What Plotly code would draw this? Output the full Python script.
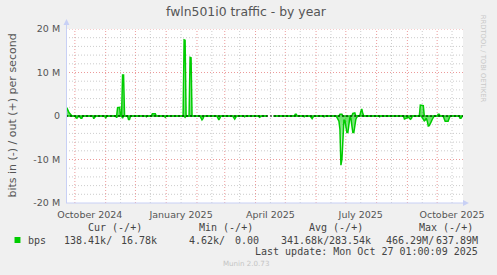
import plotly.graph_objects as go
import pandas as pd
import numpy as np

# ---------------- data ----------------
START = "2024-09-22 01:00"
END = "2025-10-27 01:00"

# days since START, value in Mbit/s (out = positive direction)
out_day = [0, 1, 3, 5, 6, 51, 52, 54, 55, 56, 57, 58, 59, 86, 87, 90, 91,
           118, 119, 120, 121, 124, 125, 126, 127, 203, 206, 209, 230, 231, 232, 233,
           275, 276, 278, 279, 288, 289, 291, 292, 296, 297, 298, 299, 300,
           356, 357, 360, 361, 374, 375, 376, 377, 400]
out_mbps = [1.9, 1.8, 0.8, 0.2, 0, 0, 1.9, 2.0, 0, 0, 9.4, 9.4, 0, 0, 0.5, 0.5, 0,
            0, 17.5, 17.4, 0, 0, 13.5, 13.4, 0, 0, np.nan, 0, 0, 0.4, 0.4, 0,
            0, 0.4, 0.4, 0, 0, 0.6, 0.7, 0, 0.1, 1.0, 1.6, 0.6, 0,
            0, 2.5, 2.4, 0, 0, 0.4, 0.4, 0, 0.02]

# days since START, magnitude in Mbit/s (in = drawn negative)
in_day = [0, 9, 10, 11, 12, 14, 15, 16, 17, 27, 28, 29, 30, 39, 40, 41, 50, 51, 52,
          56, 57, 58, 62, 63, 64, 65, 80, 81, 82, 99, 100, 101, 119, 120, 121,
          135, 136, 137, 138, 139, 152, 153, 154, 155, 156, 168, 169, 170, 171, 172,
          179, 180, 181, 194, 195, 196, 197, 203, 206, 209,
          239, 240, 241, 246, 247, 248, 249, 250, 259, 260, 261,
          272, 273, 274, 275, 276, 277, 278, 279, 280, 281, 282, 283, 284, 285, 286,
          287, 288, 289, 290, 291, 292, 293, 294, 315, 316, 317,
          340, 341, 342, 343, 344, 345, 346, 347, 348, 349,
          358, 359, 360, 361, 362, 363, 364, 365, 366, 367, 368, 369, 370, 371,
          380, 381, 382, 385, 386, 387, 396, 397, 398, 399, 400]
in_mbps = [0, 0, 0.4, 0.5, 0.1, 0.2, 0.5, 0.5, 0, 0, 0.6, 0.4, 0, 0, 0.5, 0, 0, 0.4, 0,
           0, 0.5, 0, 0, 0.8, 0.8, 0, 0, 0.2, 0, 0, 0.3, 0, 0, 0.3, 0,
           0, 0.5, 0.9, 0.6, 0, 0, 0.6, 0.9, 0.5, 0, 0, 0.5, 0.7, 0.3, 0,
           0, 0.2, 0, 0, 0.3, 0.1, 0, 0, np.nan, 0,
           0, 0.2, 0, 0, 0.4, 0.6, 0.2, 0, 0, 0.2, 0,
           0, 0.3, 0.8, 1.2, 3.0, 11.3, 10.0, 3.0, 1.0, 1.0, 2.5, 3.8, 3.8, 1.0, 0.3,
           0.5, 2.0, 3.8, 3.8, 1.5, 0.8, 0.3, 0, 0, 0.2, 0,
           0, 0.7, 0.6, 0.5, 0.5, 0.3, 0.5, 0.75, 0.6, 0,
           0, 0.3, 0.6, 1.1, 0.9, 0.5, 1.2, 2.3, 2.2, 1.5, 1.3, 0.8, 0.4, 0,
           0, 0.6, 1.2, 1.2, 0.5, 0, 0, 0.5, 0.5, 0.1, 0.14]

y_tickvals = [-20e6, -10e6, 0, 10e6, 20e6]
y_ticktext = ["-20 M", "-10 M", "0", "10 M", "20 M"]
x_tickdates = ["2024-10-16", "2025-01-16", "2025-04-16", "2025-07-16", "2025-10-16"]
x_ticktext = ["October 2024", "January 2025", "April 2025", "July 2025", "October 2025"]

legend_headers = ["Cur (-/+)", "Min (-/+)", "Avg (-/+)", "Max (-/+)"]
legend_values = ["138.41k/", "16.78k", "4.62k/", "0.00", "341.68k/", "283.54k", "466.29M/", "637.89M"]
title_text = "fwln501i0 traffic - by year"
ytitle_text = "bits in (-) / out (+) per second"
update_text = "Last update: Mon Oct 27 01:00:09 2025"
munin_text = "Munin 2.0.73"
rrd_text = "RRDTOOL / TOBI OETIKER"

# ---------------- layout geometry ----------------
W, H = 497, 275
L, R, T, B = 66, 30, 29, 72
PW, PH = W - L - R, H - T - B


def px(x):
    return (x - L) / PW


def py(y):
    return (T + PH - y) / PH


start = pd.Timestamp(START)
out_x = start + pd.to_timedelta(out_day, unit="D")
in_x = start + pd.to_timedelta(in_day, unit="D")
out_y = np.array(out_mbps) * 1e6
in_y = -np.array(in_mbps) * 1e6

GREEN = "#00CC00"
fig = go.Figure()
fig.add_trace(go.Scatter(
    x=in_x, y=in_y, mode="lines", line=dict(color=GREEN, width=1.5),
    fill="tozeroy",
    fillgradient=dict(type="vertical", start=-8e6, stop=0,
                      colorscale=[[0, "rgba(0,204,0,0.10)"], [1, "rgba(0,204,0,0.6)"]]),
    connectgaps=False, showlegend=False, hoverinfo="skip"))
fig.add_trace(go.Scatter(
    x=out_x, y=out_y, mode="lines", line=dict(color=GREEN, width=1.5),
    fill="tozeroy",
    fillgradient=dict(type="vertical", start=0, stop=12e6,
                      colorscale=[[0, "rgba(0,204,0,0.6)"], [1, "rgba(0,204,0,0.10)"]]),
    connectgaps=False, showlegend=False, hoverinfo="skip"))

shapes = []
MAJ = "rgba(230,120,120,0.75)"
MIN = "rgba(170,170,170,0.6)"
DOT = "1px,2px"
# vertical grid
for d in pd.date_range("2024-10-16", "2025-10-16", freq="MS") + pd.Timedelta(days=15):
    shapes.append(dict(type="line", xref="x", yref="paper", x0=d, x1=d, y0=0, y1=1,
                       line=dict(color=MIN, width=1, dash=DOT), layer="below"))
for d in pd.date_range("2024-10-01", "2025-10-01", freq="MS"):
    shapes.append(dict(type="line", xref="x", yref="paper", x0=d, x1=d, y0=0, y1=1,
                       line=dict(color=MAJ, width=1, dash=DOT), layer="below"))
# horizontal grid
for v in range(-18, 20, 2):
    if v % 10 == 0:
        continue
    shapes.append(dict(type="line", xref="paper", yref="y", x0=0, x1=1, y0=v * 1e6, y1=v * 1e6,
                       line=dict(color=MIN, width=1, dash=DOT), layer="below"))
for v in [-10, 10, 20]:
    shapes.append(dict(type="line", xref="paper", yref="y", x0=0, x1=1, y0=v * 1e6, y1=v * 1e6,
                       line=dict(color=MAJ, width=1, dash=DOT), layer="below"))
# zero line
shapes.append(dict(type="line", xref="paper", yref="y", x0=0, x1=1, y0=0, y1=0,
                   line=dict(color="black", width=1, dash="2px,2px"), layer="above"))
# axes with arrows
AX = "#C8D0F5"
shapes.append(dict(type="line", xref="paper", yref="paper", x0=px(66.5), x1=px(66.5),
                   y0=py(203), y1=py(22), line=dict(color=AX, width=1)))
shapes.append(dict(type="path", xref="paper", yref="paper",
                   path=f"M {px(63.5)} {py(25)} L {px(69.5)} {py(25)} L {px(66.5)} {py(19)} Z",
                   fillcolor=AX, line=dict(color=AX, width=0)))
shapes.append(dict(type="line", xref="paper", yref="paper", x0=px(66), x1=px(469),
                   y0=py(203), y1=py(203), line=dict(color=AX, width=1)))
shapes.append(dict(type="path", xref="paper", yref="paper",
                   path=f"M {px(467)} {py(200)} L {px(467)} {py(206)} L {px(473)} {py(203)} Z",
                   fillcolor=AX, line=dict(color=AX, width=0)))
# legend swatch
shapes.append(dict(type="rect", xref="paper", yref="paper", x0=px(14), x1=px(20),
                   y0=py(237), y1=py(243), fillcolor=GREEN, line=dict(width=0)))

SANS = "DejaVu Sans"
MONO = "DejaVu Sans Mono"
TXT = "#555555"
LEG = "#444444"
ann = []


def add(text, x, y, xanchor="center", size=10, color=TXT, family=SANS, angle=0):
    ann.append(dict(text=text, x=px(x), y=py(y), xref="paper", yref="paper",
                    xanchor=xanchor, yanchor="middle", showarrow=False, textangle=angle,
                    borderpad=0, font=dict(family=family, size=size, color=color)))


add(title_text, 248.5, 11.5, size=12.4, color="#555555")
add(ytitle_text, 11, 116, size=11, angle=-90)
add(rrd_text, 488, 58.5, size=6.8, color="#C8C8C8", angle=90)
for h, cx in zip(legend_headers, [115.5, 227.5, 338.5, 450]):
    add(h, cx, 227.3, size=10, color=LEG, family=MONO)
add("bps", 27, 240, xanchor="left", size=10, color=LEG, family=MONO)
for v, rx in zip(legend_values, [113.5, 158.5, 227.5, 261.5, 332.5, 375.5, 438.5, 483.5]):
    add(v, rx, 240, xanchor="right", size=10, color=LEG, family=MONO)
add(update_text, 483.5, 251.7, xanchor="right", size=10, color=LEG, family=MONO)
add(munin_text, 248, 263.3, size=7.1, color="#C4C4C4")

fig.update_layout(
    width=W, height=H,
    margin=dict(l=L, r=R, t=T, b=B, pad=0),
    paper_bgcolor="#F0F0F0", plot_bgcolor="white",
    showlegend=False,
    shapes=shapes, annotations=ann,
    xaxis=dict(range=[START, END], tickvals=x_tickdates, ticktext=x_ticktext,
               showgrid=False, zeroline=False, showline=False,
               ticks="outside", ticklen=3, tickcolor="rgba(0,0,0,0)",
               tickfont=dict(family=SANS, size=9.5, color=TXT), fixedrange=True),
    yaxis=dict(range=[-20e6, 20e6], tickvals=y_tickvals, ticktext=y_ticktext,
               showgrid=False, zeroline=False, showline=False,
               ticks="outside", ticklen=3, tickcolor="rgba(0,0,0,0)",
               tickfont=dict(family=SANS, size=9.5, color=TXT), fixedrange=True),
)

fig.write_html("out.html")
